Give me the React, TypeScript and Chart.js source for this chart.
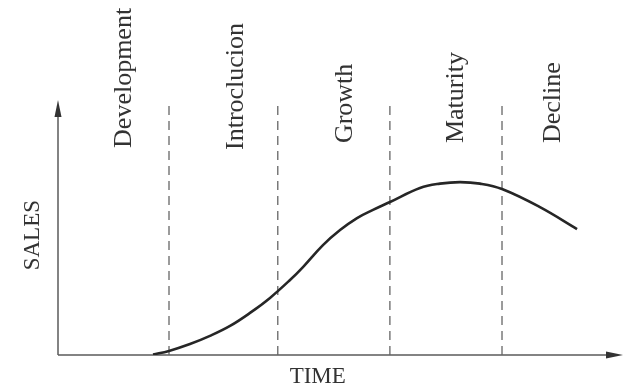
import React, { useEffect, useRef } from "react";
import { Chart, registerables } from "chart.js";

Chart.register(...registerables);

// Product life cycle curve (x: time units, y: sales units)
const curveX = [0.856, 1.0, 1.189, 1.369, 1.55, 1.73, 1.91, 2.09, 2.207, 2.387, 2.541, 2.694, 2.838, 2.991, 3.261, 3.441, 3.622, 3.802, 4.0, 4.342, 4.676];
const curveY = [0.2, 1.6, 4.3, 7.5, 11.4, 16.5, 22.4, 29.4, 34.5, 43.1, 49.0, 53.7, 56.9, 60.0, 65.5, 67.2, 67.8, 67.2, 65.1, 58.0, 49.4];

// Stage boundaries (dashed lines)
const boundaryX = [1.0, 1.98, 2.99, 4.0];
const boundaryTop = 99;

// Stage labels
const stageLabels = ["Development", "Introclucion", "Growth", "Maturity", "Decline"];
const stageLabelX = [0.6, 1.605, 2.585, 3.585, 4.46];
const stageLabelBottom = [81.2, 80.4, 83.1, 83.1, 83.1]; // y value where each rotated label starts

const xTitle = "TIME";
const yTitle = "SALES";

const X_MAX = 5.09;
const Y_MAX = 100;

const AXIS_COLOR = "#5a5a5a";
const TEXT_COLOR = "#333333";
const FONT = "'Liberation Serif', 'DejaVu Serif', serif";

const overlayPlugin = {
  id: "plcOverlay",
  beforeDatasetsDraw(chart: any) {
    const { ctx, scales } = chart;
    const xs = scales.x;
    const ys = scales.y;
    const x0 = xs.getPixelForValue(0);
    const y0 = ys.getPixelForValue(0);
    const xEnd = xs.getPixelForValue(X_MAX);
    const yEnd = ys.getPixelForValue(Y_MAX);
    ctx.save();
    ctx.strokeStyle = AXIS_COLOR;
    ctx.fillStyle = "#333";
    ctx.lineWidth = 1.5;
    // y axis
    ctx.beginPath();
    ctx.moveTo(x0, y0);
    ctx.lineTo(x0, yEnd + 10);
    ctx.stroke();
    ctx.beginPath();
    ctx.moveTo(x0, yEnd);
    ctx.lineTo(x0 - 3.5, yEnd + 17);
    ctx.lineTo(x0 + 3.5, yEnd + 17);
    ctx.closePath();
    ctx.fill();
    // x axis
    ctx.beginPath();
    ctx.moveTo(x0, y0);
    ctx.lineTo(xEnd - 10, y0);
    ctx.stroke();
    ctx.beginPath();
    ctx.moveTo(xEnd, y0);
    ctx.lineTo(xEnd - 17, y0 - 3.5);
    ctx.lineTo(xEnd - 17, y0 + 3.5);
    ctx.closePath();
    ctx.fill();

    // axis titles
    ctx.fillStyle = TEXT_COLOR;
    ctx.font = `23px ${FONT}`;
    ctx.textAlign = "center";
    ctx.textBaseline = "middle";
    ctx.fillText(xTitle, xs.getPixelForValue(2.34), y0 + 22);
    ctx.save();
    ctx.translate(33, ys.getPixelForValue(47));
    ctx.rotate(-Math.PI / 2);
    ctx.fillText(yTitle, 0, 0);
    ctx.restore();

    // stage labels
    ctx.font = `26px ${FONT}`;
    ctx.textAlign = "left";
    ctx.textBaseline = "middle";
    stageLabels.forEach((lab, i) => {
      ctx.save();
      ctx.translate(xs.getPixelForValue(stageLabelX[i]), ys.getPixelForValue(stageLabelBottom[i]));
      ctx.rotate(-Math.PI / 2);
      ctx.fillText(lab, 0, 0);
      ctx.restore();
    });
    ctx.restore();
  },
};

export default function App() {
  const ref = useRef<HTMLCanvasElement | null>(null);
  useEffect(() => {
    if (!ref.current) return;
    const boundaryDatasets = boundaryX.map((bx) => ({
      label: "boundary",
      data: [
        { x: bx, y: 0 },
        { x: bx, y: boundaryTop },
      ],
      borderColor: "#666666",
      borderWidth: 1.3,
      borderDash: [9, 6],
      pointRadius: 0,
      showLine: true,
      fill: false,
    }));
    const chart = new Chart(ref.current, {
      type: "scatter",
      data: {
        datasets: [
          {
            label: "Sales",
            data: curveX.map((x, i) => ({ x, y: curveY[i] })),
            borderColor: "#262626",
            borderWidth: 2.6,
            pointRadius: 0,
            showLine: true,
            tension: 0.4,
            fill: false,
          } as any,
          ...boundaryDatasets,
        ],
      },
      options: {
        animation: false,
        responsive: false,
        maintainAspectRatio: false,
        layout: { padding: { left: 58, right: 11, top: 100, bottom: 37 } },
        plugins: { legend: { display: false }, tooltip: { enabled: false } },
        scales: {
          x: { type: "linear", min: 0, max: X_MAX, display: false },
          y: { type: "linear", min: 0, max: Y_MAX, display: false },
        },
      },
      plugins: [overlayPlugin],
    });
    return () => chart.destroy();
  }, []);
  return (
    <div style={{ position: "fixed", left: 0, top: 0, width: 634, height: 392, background: "#fff" }}>
      <canvas ref={ref} width={634} height={392} style={{ width: 634, height: 392 }} />
    </div>
  );
}
